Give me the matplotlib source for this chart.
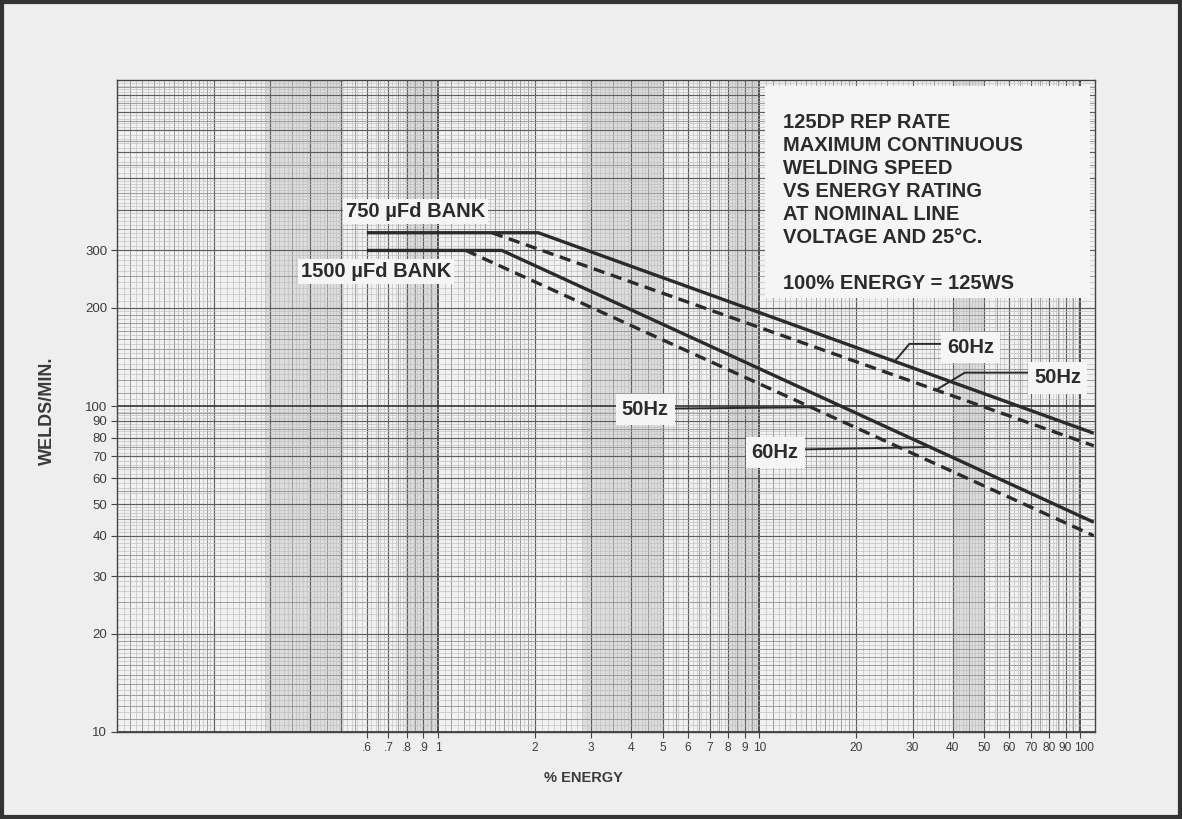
import numpy as np
import matplotlib
matplotlib.use("Agg")
import matplotlib.pyplot as plt
from matplotlib.patches import Rectangle
import matplotlib.transforms as mtransforms

# ---------------- data ----------------
energy_750_60 = [0.6, 2.05, 110]
welds_750_60 = [340, 340, 82.5]
energy_750_50 = [1.47, 110]
welds_750_50 = [340, 75.5]
energy_1500_60 = [0.6, 1.58, 110]
welds_1500_60 = [300, 300, 44]
energy_1500_50 = [1.22, 110]
welds_1500_50 = [300, 40]

x_ticks = [0.6, 0.7, 0.8, 0.9, 1, 2, 3, 4, 5, 6, 7, 8, 9, 10,
           20, 30, 40, 50, 60, 70, 80, 90, 100]
x_ticklabels = [".6", ".7", ".8", ".9", "1", "2", "3", "4", "5", "6", "7", "8",
                "9", "10", "20", "30", "40", "50", "60", "70", "80", "90", "100"]
y_ticks = [10, 20, 30, 40, 50, 60, 70, 80, 90, 100, 200, 300]
y_ticklabels = ["10", "20", "30", "40", "50", "60", "70", "80", "90", "100", "200", "300"]

title_lines = ["125DP REP RATE", "MAXIMUM CONTINUOUS", "WELDING SPEED",
               "VS ENERGY RATING", "AT NOMINAL LINE", "VOLTAGE AND 25°C."]
title_note = "100% ENERGY = 125WS"
bank_labels = ["750 µFd BANK", "1500 µFd BANK"]
x_label = "% ENERGY"
y_label = "WELDS/MIN."

# ---------------- figure ----------------
FONT = "Liberation Sans"
INK = "#2b2b2b"
FS = 14.5
fig = plt.figure(figsize=(11.82, 8.19), dpi=100, facecolor="#eeeeee")
W, H = 1182, 819
x0, x1, y0, y1 = 117, 1095, 80, 732
ax = fig.add_axes([x0 / W, 1 - y1 / H, (x1 - x0) / W, (y1 - y0) / H])
ax.set_facecolor("#f1f1f1")
ax.set_xscale("log")
ax.set_yscale("log")
ax.set_xlim(0.1, 111)
ax.set_ylim(10, 1000)

vt = mtransforms.blended_transform_factory(ax.transData, ax.transAxes)
ht = mtransforms.blended_transform_factory(ax.transAxes, ax.transData)

# darker dense bands of the scanned paper
for a, b in [(0.29, 0.51), (0.79, 1.0), (2.8, 5.0), (8.0, 10.0), (40, 50)]:
    ax.axvspan(a, b, color="#dcdcdc", lw=0, zorder=0.5)

# graph paper
def paper(lo, hi):
    dec, major, mid, fine = [], [], [], []
    for e in range(lo, hi):
        b = 10.0 ** e
        dec.append(b)
        major += [k * b for k in range(2, 10)]
        mid += [v * b for v in np.arange(1.1, 2.0, 0.1)]
        fine += [v * b for v in np.arange(1.05, 2.0, 0.1)]
        mid += [v * b for v in (2.5, 3.5, 4.5)]
        fine += [v * b for v in np.arange(2.1, 5.0, 0.1) if abs(v * 2 - round(v * 2)) > 1e-6]
        mid += [v * b for v in (5.5, 6.5, 7.5, 8.5, 9.5)]
        fine += [v * b for v in np.arange(5.2, 10.0, 0.2) if abs(v * 2 - round(v * 2)) > 1e-6]
    dec.append(10.0 ** hi)
    return dec, major, mid, fine

xd, xm, xmid, xf = paper(-1, 2)
yd, ym, ymid, yf = paper(1, 3)
ax.vlines(xf, 0, 1, transform=vt, colors="#bdbdbd", lw=0.45, zorder=1)
ax.vlines(xmid, 0, 1, transform=vt, colors="#909090", lw=0.6, zorder=1)
ax.vlines(xm, 0, 1, transform=vt, colors="#5e5e5e", lw=0.85, zorder=1)
ax.vlines(xd, 0, 1, transform=vt, colors="#333333", lw=1.2, zorder=1)
ax.hlines(yf, 0, 1, transform=ht, colors="#bdbdbd", lw=0.45, zorder=1)
ax.hlines(ymid, 0, 1, transform=ht, colors="#909090", lw=0.6, zorder=1)
ax.hlines(ym, 0, 1, transform=ht, colors="#5e5e5e", lw=0.85, zorder=1)
ax.hlines(yd, 0, 1, transform=ht, colors="#333333", lw=1.2, zorder=1)

for s in ax.spines.values():
    s.set_color("#444444")
    s.set_linewidth(1.0)

# ticks
ax.set_xticks(x_ticks)
ax.set_xticklabels(x_ticklabels)
ax.set_yticks(y_ticks)
ax.set_yticklabels(y_ticklabels)
ax.xaxis.set_minor_locator(matplotlib.ticker.NullLocator())
ax.yaxis.set_minor_locator(matplotlib.ticker.NullLocator())
ax.tick_params(axis="both", which="major", direction="out", length=4, width=0.8,
               color="#444444", labelcolor="#3c3c3c", pad=3)
ax.tick_params(axis="y", labelsize=9.5)
ax.tick_params(axis="x", labelsize=8.6)
for lab in ax.get_xticklabels() + ax.get_yticklabels():
    lab.set_family(FONT)
# nudge the crowded last x labels apart
xl = ax.get_xticklabels()
xl[-1].set_transform(xl[-1].get_transform() +
                     mtransforms.ScaledTranslation(3.5 / 100, 0, fig.dpi_scale_trans))
xl[-2].set_transform(xl[-2].get_transform() +
                     mtransforms.ScaledTranslation(-1.0 / 100, 0, fig.dpi_scale_trans))

# curves
lw = 2.4
ax.plot(energy_750_60, welds_750_60, color=INK, lw=lw, zorder=5, solid_capstyle="butt")
ax.plot(energy_1500_60, welds_1500_60, color=INK, lw=lw, zorder=5, solid_capstyle="butt")
ax.plot(energy_750_50, welds_750_50, color=INK, lw=lw, zorder=5, dashes=(3.4, 2.0))
ax.plot(energy_1500_50, welds_1500_50, color=INK, lw=lw, zorder=5, dashes=(3.4, 2.0))

# title box
ax.add_patch(Rectangle((0.663, 0.666), 0.332, 0.325, transform=ax.transAxes,
                       facecolor="#f5f5f5", edgecolor="none", zorder=3))
title_px = [122, 145, 168, 191, 214, 237]
for t, py in zip(title_lines, title_px):
    ax.text(0.681, (y1 - py) / (y1 - y0), t, transform=ax.transAxes, ha="left", va="center",
            fontsize=FS, fontweight="bold", family=FONT, color=INK, zorder=6)
ax.text(0.681, (y1 - 283) / (y1 - y0), title_note, transform=ax.transAxes, ha="left",
        va="center", fontsize=FS, fontweight="bold", family=FONT, color=INK, zorder=6)

bbox = dict(boxstyle="square,pad=0.15", facecolor="#f5f5f5", edgecolor="none")
ax.text(0.305, 0.799, bank_labels[0], transform=ax.transAxes, ha="center", va="center",
        fontsize=FS, fontweight="bold", family=FONT, color=INK, zorder=6, bbox=bbox)
ax.text(0.265, 0.706, bank_labels[1], transform=ax.transAxes, ha="center", va="center",
        fontsize=FS, fontweight="bold", family=FONT, color=INK, zorder=6, bbox=bbox)

def on_curve(xs, ys, x):
    return x, 10 ** np.interp(np.log10(x), np.log10(xs), np.log10(ys))

def leader(label, xy, xyt, style, rely):
    ax.annotate(label, xy=xy, xycoords="data", xytext=xyt, textcoords="axes fraction",
                ha="center", va="center", fontsize=FS, fontweight="bold",
                family=FONT, color=INK, zorder=7,
                bbox=dict(boxstyle="square,pad=0.3", facecolor="#f5f5f5", edgecolor="none"),
                arrowprops=dict(arrowstyle="-", color=INK, lw=1.4, relpos=(0, rely),
                                connectionstyle=style, shrinkA=0, shrinkB=0))

leader("60Hz", on_curve(energy_750_60, welds_750_60, 26.4), (0.873, 0.590),
       "angle,angleA=0,angleB=50,rad=0", 0.68)
leader("50Hz", on_curve(energy_750_50, welds_750_50, 35.5), (0.962, 0.543),
       "angle,angleA=0,angleB=31,rad=0", 0.78)
leader("50Hz", on_curve(energy_1500_50, welds_1500_50, 14.5), (0.540, 0.494), "arc3", 0.55)
leader("60Hz", on_curve(energy_1500_60, welds_1500_60, 34), (0.673, 0.429), "arc3", 0.6)

# axis labels
fig.text(583 / W, 1 - 778 / H, x_label, ha="center", va="center", fontsize=10.5,
         fontweight="bold", family=FONT, color="#3a3a3a")
fig.text(47 / W, 1 - 411 / H, y_label, rotation=90, ha="center", va="center",
         fontsize=13, fontweight="bold", family=FONT, color="#3a3a3a")

# frame
fig.add_artist(Rectangle((0.0015, 0.002), 0.997, 0.996, transform=fig.transFigure,
                         fill=False, edgecolor="#333333", lw=3))

fig.savefig("out.png", dpi=100, facecolor=fig.get_facecolor())
